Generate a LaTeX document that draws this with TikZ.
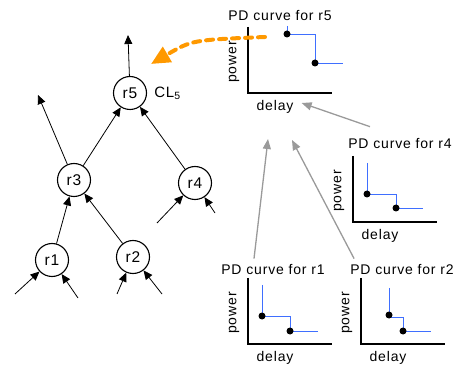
\documentclass[tikz,border=0pt]{standalone}
\usepackage{fontspec}
\setmainfont{Liberation Sans}[LetterSpace=6]
\usetikzlibrary{arrows.meta, positioning}
\definecolor{curveblue}{HTML}{3F6FFF}
\definecolor{feedgray}{HTML}{9A9A9A}
\definecolor{hintorange}{HTML}{FF9900}

% axes and axis labels of one PD plot, origin at the corner
\newcommand{\pdaxes}[1]{%
  \draw[line width=1.5pt] (0,-66) -- (0,0) -- (84,0);
  \node[rotate=90] (p#1) at (-14,-31) {power};
  \node (d#1) at (27,14) {delay};
}

\begin{document}
\begin{tikzpicture}[x=1pt, y=-1pt,
    every node/.style={font=\fontsize{14}{16}\selectfont, inner sep=1pt},
    rnode/.style={draw, circle, line width=1.1pt, minimum size=33pt, inner sep=0pt,
      font=\fontsize{15.5}{17}\selectfont},
    edge/.style={-{Triangle[length=9pt,width=8pt]}, line width=0.8pt},
    feed/.style={-{Triangle[length=10pt,width=8pt]}, draw=feedgray, line width=1.3pt},
    hint/.style={-{Triangle[length=19pt,width=17pt]}, draw=hintorange,
      line width=4pt, dash pattern=on 7pt off 6pt, line cap=round},
    pdline/.style={draw=curveblue, line width=0.9pt}]
\useasboundingbox (0,0) rectangle (463,371);

% tree of regions
\node[rnode] (r5) at (130,93) {r5};
\node[right=6pt of r5, font=\fontsize{15}{17}\selectfont] (cl5) {CL\textsubscript{5}};
\node[rnode] (r3) at (74,180) {r3};
\node[rnode] (r4) at (195,183) {r4};
\node[rnode] (r1) at (52,260) {r1};
\node[rnode] (r2) at (133,257) {r2};

\coordinate (out5) at (128,35);
\coordinate (out3) at (38,95);
\coordinate (in1a) at (15,294);
\coordinate (in1b) at (78,298);
\coordinate (in2a) at (117,294);
\coordinate (in2b) at (162,294);
\coordinate (in4a) at (157,223);
\coordinate (in4b) at (215,213);

\draw[edge] (r5) -- (out5);
\draw[edge] (r3) -- (out3);
\draw[edge] (r3) -- (r5);
\draw[edge] (r4) -- (r5);
\draw[edge] (r1) -- (r3);
\draw[edge] (r2) -- (r3);
\draw[edge] (in1a) -- (r1);
\draw[edge] (in1b) -- (r1);
\draw[edge] (in2a) -- (r2);
\draw[edge] (in2b) -- (r2);
\draw[edge] (in4a) -- (r4);
\draw[edge] (in4b) -- (r4);

% PD curves
\node (t5) at (280,16) {PD curve for r5};
\begin{scope}[shift={(248,93)}]
  \pdaxes{5}
  \draw[pdline] (39,-67) -- (39,-59) -- (67,-59) -- (67,-30) -- (95,-30);
  \fill (39,-59) circle (3.5pt);
  \fill (67,-30) circle (3.5pt);
\end{scope}

\node (t4) at (400,144) {PD curve for r4};
\begin{scope}[shift={(353,222)}]
  \pdaxes{4}
  \draw[pdline] (14,-59) -- (14,-28) -- (43,-28) -- (43,-14) -- (70,-14);
  \fill (14,-28) circle (3.5pt);
  \fill (43,-14) circle (3.5pt);
\end{scope}

\node (t1) at (273,270) {PD curve for r1};
\begin{scope}[shift={(248,344)}]
  \pdaxes{1}
  \draw[pdline] (14,-59) -- (14,-28) -- (42,-28) -- (42,-13) -- (70,-13);
  \fill (14,-28) circle (3.5pt);
  \fill (42,-13) circle (3.5pt);
\end{scope}

\node (t2) at (402,270) {PD curve for r2};
\begin{scope}[shift={(361,344)}]
  \pdaxes{2}
  \draw[pdline] (28,-56) -- (28,-27) -- (42,-27) -- (42,-13) -- (70,-13);
  \fill (28,-29) circle (3.5pt);
  \fill (42,-13) circle (3.5pt);
\end{scope}

% curves handed up the tree
\coordinate (f1) at (268,139);
\coordinate (f2) at (292,140);
\draw[feed] ([shift={(-30,-11)}]t4.north) -- ([shift={(7,-4)}]d5.east);
\draw[feed] ([shift={(-19,-5)}]t1.north) -- (f1);
\draw[feed] ([shift={(5,-5)}]t2.north west) -- (f2);

\coordinate (s5) at (265,37);
\coordinate (h5) at (151,64);
\draw[hint] (s5) .. controls (192,40) .. (h5);
\end{tikzpicture}
\end{document}
